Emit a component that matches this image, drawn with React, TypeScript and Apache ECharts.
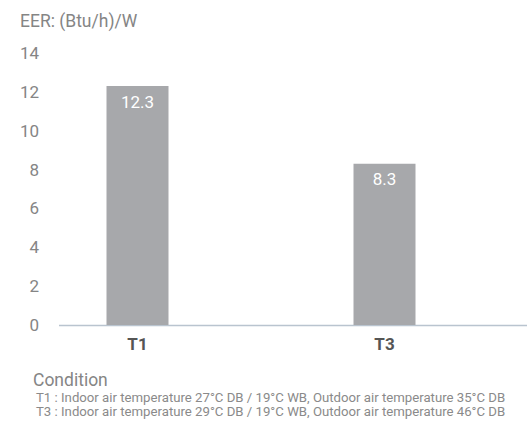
import React, { useEffect, useRef } from "react";
import * as echarts from "echarts";

const categories = ["T1", "T3"];
const eerValues = [12.3, 8.3];
const yTicks = { min: 0, max: 14, interval: 2 };
const yTitle = "EER: (Btu/h)/W";
const conditionTitle = "Condition";
const conditionLines = [
  "T1 : Indoor air temperature 27°C DB / 19°C WB, Outdoor air temperature 35°C DB",
  "T3 : Indoor air temperature 29°C DB / 19°C WB, Outdoor air temperature 46°C DB",
];

const FONT = "Roboto, 'Noto Sans', sans-serif";

export default function App() {
  const ref = useRef<HTMLDivElement>(null);
  useEffect(() => {
    if (!ref.current) return;
    const chart = echarts.init(ref.current, undefined, { renderer: "svg" });
    chart.setOption({
      animation: false,
      textStyle: { fontFamily: FONT },
      grid: { left: 14, right: 19, top: 53, bottom: 424 - 325, containLabel: false },
      xAxis: {
        type: "category",
        data: categories,
        axisLine: { show: false },
        axisTick: { show: false },
        axisLabel: { color: "#555", fontSize: 17, fontWeight: "bold", margin: 10, fontFamily: FONT },
      },
      yAxis: {
        type: "value",
        min: yTicks.min,
        max: yTicks.max,
        interval: yTicks.interval,
        offset: -45,
        axisLine: { show: false },
        axisTick: { show: false },
        splitLine: { show: false },
        axisLabel: { color: "#858585", fontSize: 17, margin: 20, align: "right", padding: [8, 0, 0, 0], fontFamily: FONT },
      },
      graphic: [
        { type: "text", x: 20, y: 21, style: { text: yTitle, fill: "#858585", font: `17.5px ${FONT}`, verticalAlign: "middle", align: "left" } },
        { type: "line", shape: { x1: 59, y1: 325.5, x2: 527, y2: 325.5 }, style: { stroke: "#b9c4cf", lineWidth: 1.5 } },
        { type: "text", x: 33, y: 380, style: { text: conditionTitle, fill: "#858585", font: `17.5px ${FONT}`, verticalAlign: "middle", align: "left" } },
        { type: "text", x: 36, y: 397, style: { text: conditionLines[0], fill: "#8a8a8a", font: `13.2px ${FONT}`, verticalAlign: "middle", align: "left" } },
        { type: "text", x: 36, y: 411, style: { text: conditionLines[1], fill: "#8a8a8a", font: `13.2px ${FONT}`, verticalAlign: "middle", align: "left" } },
      ],
      series: [
        {
          type: "bar",
          data: eerValues,
          barWidth: 62,
          itemStyle: { color: "#a7a8ab" },
          label: {
            show: true,
            position: "insideTop",
            distance: 7,
            color: "#ffffff",
            fontSize: 17,
            fontFamily: FONT,
          },
        },
      ],
    });
    return () => chart.dispose();
  }, []);
  return <div ref={ref} style={{ width: 527, height: 424, position: "absolute", left: 0, top: 0 }} />;
}
